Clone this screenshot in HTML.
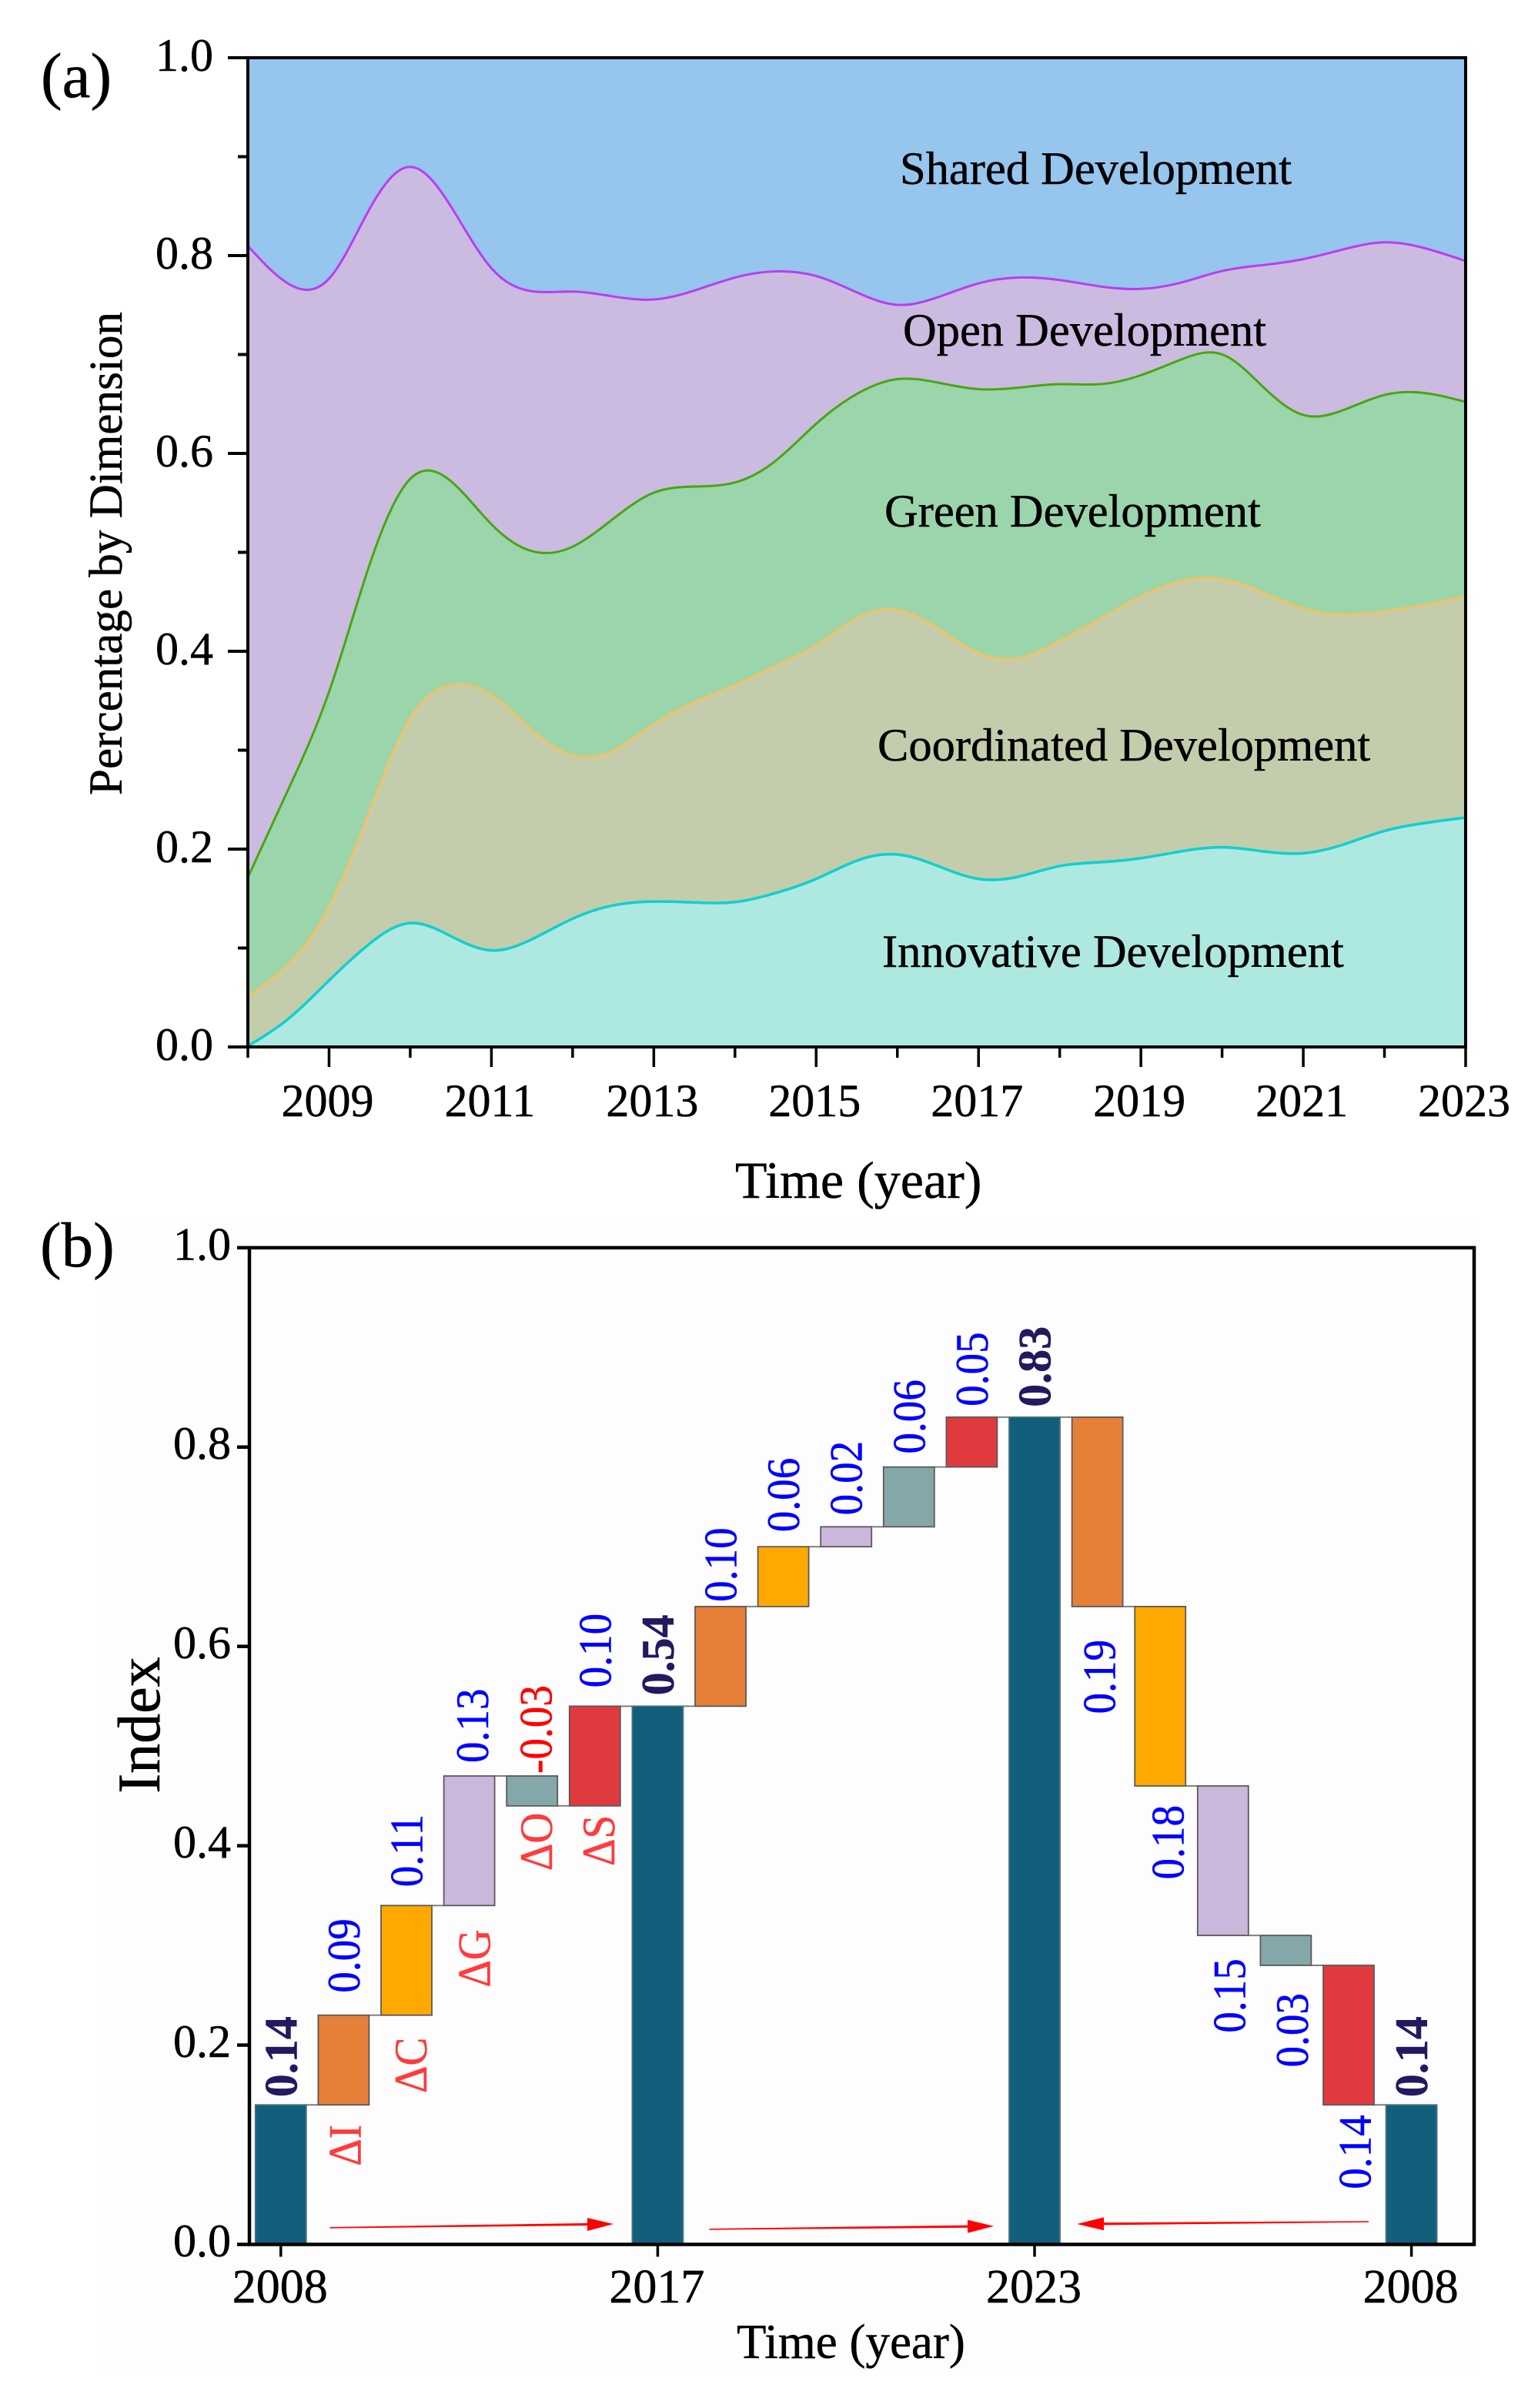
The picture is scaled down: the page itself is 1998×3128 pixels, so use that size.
<!DOCTYPE html>
<html lang="en">
<head>
<meta charset="utf-8">
<title>Development dimensions and index waterfall</title>
<style>
html,body{margin:0;padding:0;background:#fff}
svg{display:block}
text{font-family:"Liberation Serif",serif}
</style>
</head>
<body>
<svg id="figure" xmlns="http://www.w3.org/2000/svg" width="1998" height="3128" viewBox="0 0 1998 3128">
  <rect x="134" y="1582" width="1788" height="1497" fill="#fdfdfd"/>
  <defs>
    <clipPath id="plot-a-clip"><rect x="322" y="75" width="1582" height="1285"/></clipPath>
  </defs>
  <g id="panel-a"></g>
  <g id="panel-b"></g>
</svg>
<script>
// ---------- Panel (a) data: upper boundary of each stacked band, half-year samples ----------
const years = [2008,2008.5,2009,2009.5,2010,2010.5,2011,2011.5,2012,2012.5,2013,2013.5,2014,2014.5,2015,2015.5,2016,2016.5,2017,2017.5,2018,2018.5,2019,2019.5,2020,2020.5,2021,2021.5,2022,2022.5,2023];
const innovativeTop = [0.001,0.0285,0.0672,0.1044,0.1253,0.1120,0.0976,0.1089,0.1297,0.1431,0.1470,0.1461,0.1465,0.1556,0.1699,0.1883,0.1946,0.1829,0.1699,0.1723,0.1829,0.1868,0.1908,0.1978,0.2019,0.1978,0.1958,0.2048,0.2184,0.2264,0.2319];
const coordinatedTop = [0.0508,0.0836,0.1416,0.2384,0.3322,0.3659,0.356,0.3203,0.2950,0.2996,0.3263,0.3486,0.3658,0.3852,0.4062,0.4335,0.4420,0.4228,0.3984,0.3933,0.4104,0.4329,0.4555,0.4710,0.4731,0.4595,0.4435,0.4370,0.4405,0.4470,0.4555];
const greenTop = [0.1714,0.2607,0.3590,0.4878,0.5743,0.5720,0.5284,0.5012,0.5058,0.5339,0.5603,0.5665,0.5707,0.5925,0.6300,0.6601,0.6751,0.6716,0.6650,0.6665,0.6700,0.6700,0.6791,0.6951,0.7001,0.6677,0.6389,0.6440,0.6591,0.6610,0.6521];
const openTop = [0.8097,0.7715,0.7767,0.8473,0.8897,0.8498,0.7872,0.7639,0.7636,0.7587,0.7556,0.7646,0.7778,0.7840,0.7793,0.7628,0.7502,0.7579,0.7719,0.7778,0.7753,0.7688,0.7663,0.7728,0.7844,0.7904,0.7964,0.8064,0.8134,0.8074,0.7945];
const yTicksMajorA = [0,0.2,0.4,0.6,0.8,1.0];
const yTicksMinorA = [0.1,0.3,0.5,0.7,0.9];
const xTicksMajorA = [2009,2011,2013,2015,2017,2019,2021,2023];
const xTicksMinorA = [2008,2010,2012,2014,2016,2018,2020,2022];

// ---------- Panel (b) data: waterfall bars ----------
const barStart = [0,0.14,0.23,0.34,0.47,0.44,0,0.54,0.64,0.70,0.72,0.78,0,0.83,0.64,0.46,0.31,0.28,0];
const barEnd = [0.14,0.23,0.34,0.47,0.44,0.54,0.54,0.64,0.70,0.72,0.78,0.83,0.83,0.64,0.46,0.31,0.28,0.14,0.14];
const barKinds = ["total","I","C","G","O","S","total","I","C","G","O","S","total","I","C","G","O","S","total"];
const barLabels = ["0.14","0.09","0.11","0.13","-0.03","0.10","0.54","0.10","0.06","0.02","0.06","0.05","0.83","0.19","0.18","0.15","0.03","0.14","0.14"];
const deltaNames = ["ΔI","ΔC","ΔG","ΔO","ΔS"];
const yTicksB = [0,0.2,0.4,0.6,0.8,1.0];
const xTickBars = [0,6,12,18];
const xTickLabelsB = ["2008","2017","2023","2008"];

const NS = "http://www.w3.org/2000/svg";
function make(parent, tag, attrs, text) {
  const el = document.createElementNS(NS, tag);
  for (const k in attrs) el.setAttribute(k, attrs[k]);
  if (text !== undefined) {
    el.textContent = text;
    el.setAttribute("stroke", attrs.fill);
    el.setAttribute("stroke-width", "0.5");
  }
  parent.appendChild(el);
  return el;
}
function fmt(n){ return n.toFixed(2); }

// ---------- Panel (a) ----------
(function drawPanelA(){
  const g = document.getElementById("panel-a");
  const x = yr => 322 + (yr - 2008) * (1582 / 15);
  const y = v => 1360 - 1285 * v;

  // natural cubic spline through the samples, emitted as Bezier segments
  function curve(vals){
    const xs = years.map(x), ys = vals.map(y), n = ys.length, h = xs[1] - xs[0];
    const M = new Array(n).fill(0), c = new Array(n).fill(0), d = new Array(n).fill(0);
    for (let i = 1; i < n - 1; i++){
      const rhs = 6 * (ys[i+1] - 2*ys[i] + ys[i-1]) / (h*h);
      const den = 4 - c[i-1];
      c[i] = 1 / den;
      d[i] = (rhs - d[i-1]) / den;
    }
    for (let i = n - 2; i > 0; i--) M[i] = d[i] - c[i] * M[i+1];
    let path = "M" + fmt(xs[0]) + " " + fmt(ys[0]);
    for (let i = 0; i < n - 1; i++){
      const s = (ys[i+1] - ys[i]) / h;
      const m0 = s - h * (2*M[i] + M[i+1]) / 6;
      const m1 = s + h * (M[i] + 2*M[i+1]) / 6;
      path += "C" + fmt(xs[i] + h/3) + " " + fmt(ys[i] + m0*h/3) + " " + fmt(xs[i+1] - h/3) + " " + fmt(ys[i+1] - m1*h/3) + " " + fmt(xs[i+1]) + " " + fmt(ys[i+1]);
    }
    return path;
  }
  const base = "L" + x(2023) + " " + y(0) + "L" + x(2008) + " " + y(0) + "Z";

  const plot = make(g, "g", {"clip-path":"url(#plot-a-clip)"});
  
  

  const shared = make(plot, "rect", {x:322,y:75,width:1582,height:1285,fill:"#96c5ee"});
  
  

  const areaOpen = make(plot, "path", {d:curve(openTop)+base, fill:"#cbbbe0"});
  
  

  const areaGreen = make(plot, "path", {d:curve(greenTop)+base, fill:"#9bd5ab"});
  
  

  const areaCoord = make(plot, "path", {d:curve(coordinatedTop)+base, fill:"#c4cdab"});
  
  

  const areaInno = make(plot, "path", {d:curve(innovativeTop)+base, fill:"#aee9e1"});
  
  

  const lineOpen = make(plot, "path", {d:curve(openTop), fill:"none", stroke:"#b93ef0", "stroke-width":3});
  
  

  const lineGreen = make(plot, "path", {d:curve(greenTop), fill:"none", stroke:"#4aa512", "stroke-width":3});
  
  

  const lineCoord = make(plot, "path", {d:curve(coordinatedTop), fill:"none", stroke:"#f6c15e", "stroke-width":2.8});
  
  

  const lineInno = make(plot, "path", {d:curve(innovativeTop), fill:"none", stroke:"#12cfcf", "stroke-width":3.6});
  
  

  // frame
  const frame = make(g, "rect", {x:322,y:75,width:1582,height:1285,fill:"none",stroke:"#000","stroke-width":4});
  
  

  // y ticks
  yTicksMajorA.forEach(v => {
    const t = make(g, "line", {x1:296,x2:322,y1:y(v),y2:y(v),stroke:"#000","stroke-width":4});
    
    
    const l = make(g, "text", {x:277,y:y(v)+17,"text-anchor":"end","font-size":60,fill:"#000"}, v.toFixed(1));
    
    
  });
  yTicksMinorA.forEach(v => {
    const t = make(g, "line", {x1:309,x2:322,y1:y(v),y2:y(v),stroke:"#000","stroke-width":4});
    
    
  });
  // x ticks
  xTicksMajorA.forEach(yr => {
    const t = make(g, "line", {x1:x(yr),x2:x(yr),y1:1360,y2:1386,stroke:"#000","stroke-width":3.5});
    
    
    const l = make(g, "text", {x:x(yr)-2,y:1450,"text-anchor":"middle","font-size":60,fill:"#000"}, String(yr));
    
    
  });
  xTicksMinorA.forEach(yr => {
    const t = make(g, "line", {x1:x(yr),x2:x(yr),y1:1360,y2:1374,stroke:"#000","stroke-width":3.5});
    
    
  });

  // titles and labels
  const panelLabel = make(g, "text", {x:53,y:126,"font-size":83,fill:"#000"}, "(a)");
  
  

  const yTitle = make(g, "text", {transform:"translate(158,719) rotate(-90)","text-anchor":"middle","font-size":61,textLength:628,lengthAdjust:"spacingAndGlyphs",fill:"#000"}, "Percentage by Dimension");
  
  

  const xTitle = make(g, "text", {x:955,y:1556,"font-size":68,fill:"#000"}, "Time (year)");
  
  

  const lblShared = make(g, "text", {x:1169,y:239,"font-size":60.5,fill:"#000"}, "Shared Development");
  
  

  const lblOpen = make(g, "text", {x:1173,y:449,"font-size":60.5,fill:"#000"}, "Open Development");
  
  

  const lblGreen = make(g, "text", {x:1149,y:684,"font-size":60.5,fill:"#000"}, "Green Development");
  
  

  const lblCoord = make(g, "text", {x:1140,y:988,"font-size":60.5,fill:"#000"}, "Coordinated Development");
  
  

  const lblInno = make(g, "text", {x:1146,y:1256,"font-size":60.5,fill:"#000"}, "Innovative Development");
  
  
})();

// ---------- Panel (b) ----------
(function drawPanelB(){
  const g = document.getElementById("panel-b");
  const y = v => 2915.5 - 1294.7 * v;
  const cx = i => 364.8 + i * 81.6;
  const BW = 66;
  const kindFill = {total:"#125f7b", I:"#e67f38", C:"#ffa900", G:"#cbb6dc", O:"#84a7a9", S:"#e03a3e"};
  const kindName = {total:"total", I:"innovative", C:"coordinated", G:"green", O:"open", S:"shared"};

  // connectors
  barEnd.forEach((v,i) => {
    if (i === barEnd.length - 1) return;
    const c = make(g, "line", {x1:cx(i)+BW/2,x2:cx(i+1)-BW/2,y1:y(v),y2:y(v),stroke:"#808080","stroke-width":2});
    
    
  });

  // bars
  barStart.forEach((s,i) => {
    const e = barEnd[i];
    const top = y(Math.max(s,e)), bottom = y(Math.min(s,e));
    const r = make(g, "rect", {x:cx(i)-BW/2,y:top,width:BW,height:bottom-top,fill:kindFill[barKinds[i]],stroke:barKinds[i]==="total"?"#4a6f80":"#5a5a5a","stroke-width":1.8});
    
    
  });

  // value labels: gap from bar edge in px and sideways nudge
  const gapAbove = {0:10,1:29,2:24,3:17,4:3,5:24,6:14,7:6,8:19,9:15,10:17,11:14,12:13,18:10};
  const gapBelow = {13:43,14:25,15:30,16:36,17:13};
  const nudgeX = {3:4,4:5,13:2.5,14:10,15:8,16:8,17:8};
  barLabels.forEach((txt,i) => {
    const s = barStart[i], e = barEnd[i];
    const total = barKinds[i] === "total";
    const bx = cx(i) + (nudgeX[i] || 0) + 20.5;
    const isBelow = i in gapBelow;
    const py = isBelow ? y(Math.min(s,e)) + gapBelow[i] : y(Math.max(s,e)) - gapAbove[i];
    const sx = total ? 1 : 0.92;
    const t = make(g, "text", {
      transform:"translate(" + bx + "," + py + ") rotate(-90) scale(" + sx + ",1)",
      "text-anchor": isBelow ? "end" : "start",
      "font-size":60,
      "font-weight": total ? "bold" : "normal",
      fill: total ? "#25185f" : (txt.charAt(0) === "-" ? "#ff0000" : "#0000ff")
    }, txt);
    
    
  });

  // delta symbols beneath the first five step bars
  const deltaGap = [25.6,29,31,9,12];
  const deltaNudge = [2,6,7,6,5];
  deltaNames.forEach((txt,k) => {
    const i = k + 1;
    const py = y(Math.min(barStart[i],barEnd[i])) + deltaGap[k];
    const t = make(g, "text", {
      transform:"translate(" + (cx(i)+deltaNudge[k]+20) + "," + py + ") rotate(-90) scale(0.92,1)",
      "text-anchor":"end","font-size":60,fill:"#ff3b3b"
    }, txt);
    
    
  });

  // arrows (annotations)
  function arrow(x1,y1,x2,y2,headLen,name){
    const dir = x2 > x1 ? 1 : -1;
    const slope = (y2-y1)/(x2-x1);
    const hx = x2 - dir*headLen, hy = y2 - slope*dir*headLen;
    const shaft = make(g, "polygon", {points:x1+","+(y1-0.8)+" "+hx+","+(hy-1.6)+" "+hx+","+(hy+1.6)+" "+x1+","+(y1+0.8), fill:"#ff0000"});
    
    
    const head = make(g, "polygon", {points:x2+","+y2+" "+hx+","+(hy-8.5)+" "+hx+","+(hy+8.5), fill:"#ff0000"});
    
    
  }
  arrow(428.6,2893.8,797,2889,34,'arrow-2008-to-2017');
  arrow(921.6,2895.8,1291,2891.8,34,'arrow-2017-to-2023');
  arrow(1778,2886,1399,2889,35,'arrow-2008-to-2023');

  // frame
  const frame = make(g, "rect", {x:324,y:y(1),width:1591,height:y(0)-y(1),fill:"none",stroke:"#000","stroke-width":4.5});
  
  

  yTicksB.forEach(v => {
    const t = make(g, "line", {x1:308,x2:324,y1:y(v),y2:y(v),stroke:"#000","stroke-width":4.5});
    
    
    const l = make(g, "text", {x:300,y:y(v)+15.5,"text-anchor":"end","font-size":60,fill:"#000"}, v.toFixed(1));
    
    
  });
  xTickBars.forEach((i,k) => {
    const t = make(g, "line", {x1:cx(i),x2:cx(i),y1:y(0),y2:y(0)+16,stroke:"#000","stroke-width":3.5});
    
    
    const l = make(g, "text", {x:cx(i)-1,y:2991,"text-anchor":"middle","font-size":62,fill:"#000"}, xTickLabelsB[k]);
    
    
  });

  const panelLabel = make(g, "text", {x:52,y:1645,"font-size":83,fill:"#000"}, "(b)");
  
  

  const yTitle = make(g, "text", {transform:"translate(207,2241) rotate(-90)","text-anchor":"middle","font-size":78,fill:"#000"}, "Index");
  
  

  const xTitle = make(g, "text", {x:957,y:3063,"font-size":63,fill:"#000"}, "Time (year)");
  
  
})();
</script>
</body>
</html>
